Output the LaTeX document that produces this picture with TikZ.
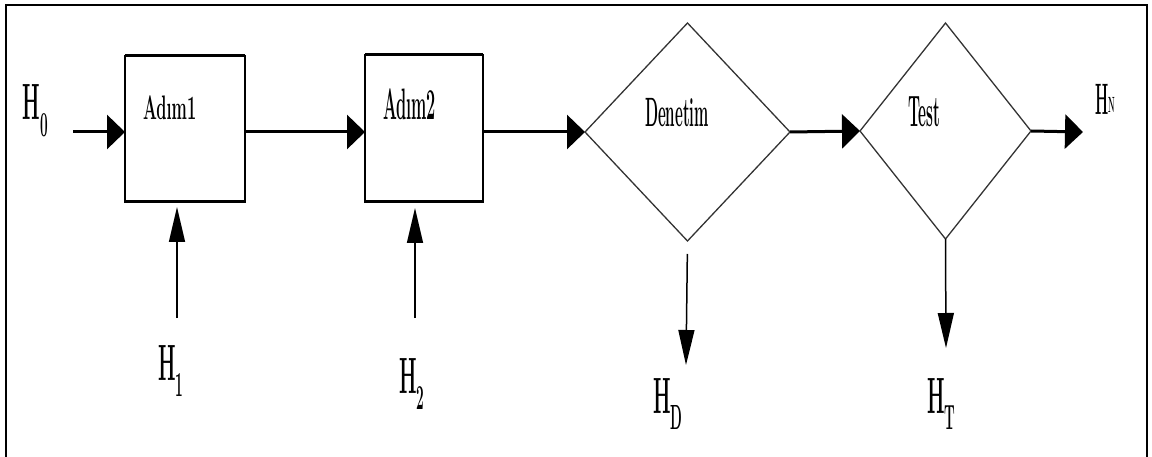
\documentclass[tikz,border=0pt]{standalone}
\usepackage{fontspec}
\usepackage{graphicx}
\usetikzlibrary{arrows.meta,shapes.geometric}

% narrow, tall lettering
\newcommand{\narrow}[3]{\scalebox{#1}[1]{\fontsize{#2}{#2}\selectfont\bfseries #3}}
% H with a lowered index
\newcommand{\Hidx}[1]{H\raisebox{-0.33em}{\fontsize{35}{35}\selectfont #1}}

\tikzset{
  stepbox/.style={draw, line width=1.5pt, rectangle, inner sep=0, outer sep=0},
  decision/.style={draw=black!80, line width=1.3pt, diamond, inner sep=0, outer sep=0},
  flow/.style={line width=3pt, -{Triangle[length=18pt,width=34pt]}},
  feed/.style={line width=1.5pt, -{Triangle[length=35pt,width=16pt]}},
  lbl/.style={inner sep=0, outer sep=0},
}

\begin{document}
\begin{tikzpicture}[x=1pt, y=-1pt]
\useasboundingbox (0,0) rectangle (1152,457);

% frame (open at the bottom)
\draw[line width=2.6pt] (6,457) -- (6,5) -- (1147,5) -- (1147,457);

% process steps
\node[stepbox, minimum width=120pt, minimum height=146pt] (b1) at (185,129) {};
\node[stepbox, minimum width=118pt, minimum height=147pt] (b2) at (424,128.5) {};
\foreach \b in {b1,b2}{
  \draw[line width=3pt] (\b.north west) -- (\b.north east);
  \draw[line width=3pt] (\b.south west) -- (\b.south east);
}

% checks
\node[decision, minimum width=205pt, minimum height=218pt] (d1) at (687.5,132) {};
\node[decision, minimum width=171pt, minimum height=216pt] (d2) at (945.5,131) {};

% texts inside the shapes
\node[lbl, anchor=base west] (t1) at (143,120) {\narrow{0.48}{34}{Adım1}};
\node[lbl, anchor=base west] (t2) at (383,120) {\narrow{0.37}{44}{Adım2}};
\node[lbl, anchor=base west] (t3) at (645,127) {\narrow{0.37}{41}{Denetim}};
\node[lbl, anchor=base west] (t4) at (908,127) {\narrow{0.35}{44}{Test}};

% main flow
\coordinate (in0) at (73,132);
\coordinate (out) at (1083,132);
\draw[flow] (in0) -- (in0 -| b1.west);
\draw[flow] (b1.east |- in0) -- (b2.west |- in0);
\draw[flow] (b2.east |- in0) -- (d1.west);
\draw[flow] (d1.east) -- (d2.west);
\draw[flow] (d2.east) -- (out);

% side inputs and outputs
\coordinate (h1s) at (177,318);
\coordinate (h2s) at (415,318);
\coordinate (hdt) at (686,365);
\coordinate (htt) at (946,348);
\draw[feed, shorten >=5pt] (h1s) -- (h1s |- b1.south);
\draw[feed, shorten >=6pt] (h2s) -- (h2s |- b2.south);
\draw[feed, shorten <=13pt] (d1.south) -- (hdt);
\draw[feed] (d2.south) -- (htt);

% stream labels
\node[lbl, anchor=base west] (H0) at (23,120) {\narrow{0.39}{51}{\Hidx{0}}};
\node[lbl, anchor=base west] (H1) at (158,380) {\narrow{0.39}{51}{\Hidx{1}}};
\node[lbl, anchor=base west] (H2) at (399,393) {\narrow{0.39}{51}{\Hidx{2}}};
\node[lbl, anchor=base west] (HD) at (653,413) {\narrow{0.39}{51}{\Hidx{D}}};
\node[lbl, anchor=base west] (HT) at (927,413) {\narrow{0.39}{51}{\Hidx{T}}};
\node[lbl, anchor=base west] (HN) at (1095,115) {\narrow{0.34}{44}{H\raisebox{0.05em}{\fontsize{22}{22}\selectfont N}}};
\end{tikzpicture}
\end{document}
